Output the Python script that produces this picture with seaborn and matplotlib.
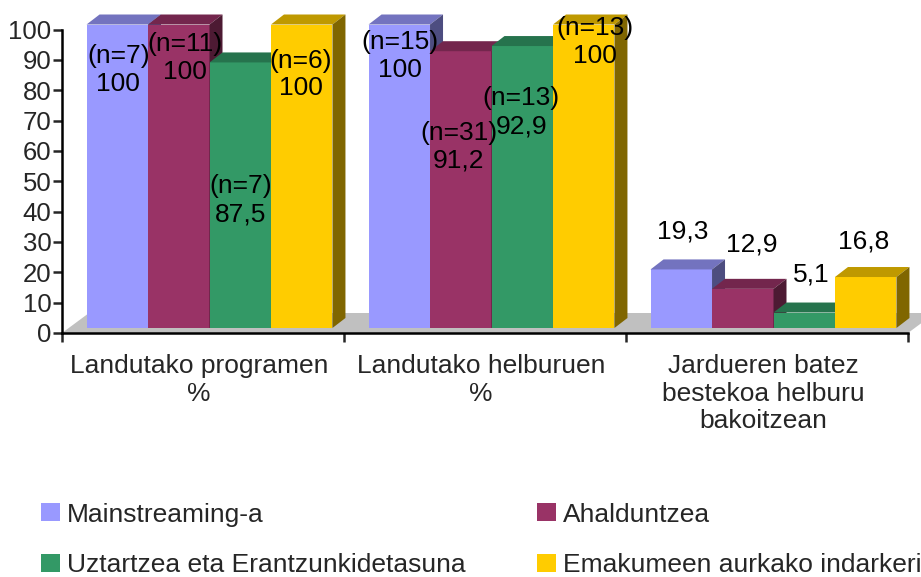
import numpy as np
import pandas as pd
import matplotlib
matplotlib.use("Agg")
import matplotlib.pyplot as plt
import matplotlib.colors as mcolors
from matplotlib.patches import Polygon, Patch
from matplotlib.transforms import ScaledTranslation
import seaborn as sns

# ---------------- data ----------------
categories = ["Landutako programen\n%", "Landutako helburuen\n%",
              "Jardueren batez\nbestekoa helburu\nbakoitzean"]
series = ["Mainstreaming-a", "Ahalduntzea",
          "Uztartzea eta Erantzunkidetasuna", "Emakumeen aurkako indarkeria"]
mainstreaming = [100, 100, 19.3]
ahalduntzea = [100, 91.2, 12.9]
uztartzea = [87.5, 92.9, 5.1]
emakumeen = [100, 100, 16.8]
n_mainstreaming = [7, 15, None]
n_ahalduntzea = [11, 31, None]
n_uztartzea = [7, 13, None]
n_emakumeen = [6, 13, None]
y_ticks = list(range(0, 101, 10))
colors = ["#9999FF", "#993366", "#339966", "#FFCC00"]

values = [mainstreaming, ahalduntzea, uztartzea, emakumeen]
counts = [n_mainstreaming, n_ahalduntzea, n_uztartzea, n_emakumeen]

# ---------------- layout (not data) ----------------
# label centre heights (axis units) and horizontal nudges (px), per category then series
label_y = [[86.7, 90.6, 43.7, 85.2],
           [91.4, 61.3, 72.7, 95.9],
           [33.3, 29.0, 19.4, 30.0]]
label_dx = [[1, 6, 0, -1],
            [1, -2, -1, 11],
            [1, 9, 7, -2]]
FRONT_PX = (6.5, 5.0)    # front plane offset from axis plane
DEPTH_PX = (13.0, 10.0)  # bar depth
FLOOR_PX = (27.0, 20.0)  # floor depth

sns.set_style("ticks")
plt.rcParams["font.family"] = ["Liberation Sans", "DejaVu Sans"]
FS = 19

fig = plt.figure(figsize=(9.21, 5.77), dpi=100)
ax = fig.add_axes([62 / 921, (577 - 333) / 577, 846 / 921, 303.5 / 577])

rows = []
for s, vals in zip(series, values):
    for c, v in zip(categories, vals):
        rows.append({"category": c, "series": s, "value": v})
df = pd.DataFrame(rows)

sns.barplot(data=df, x="category", y="value", hue="series", order=categories,
            hue_order=series, palette=colors, saturation=1, width=0.872,
            errorbar=None, legend=False, linewidth=0, ax=ax)

ax.set_xlim(-0.5, 2.5)
ax.set_ylim(0, 100)

inv = ax.transData.inverted()
def px2data(px, py):
    a = inv.transform((0, 0))
    b = inv.transform((px, py))
    return b[0] - a[0], b[1] - a[1]

fx, fy = px2data(*FRONT_PX)
dx, dy = px2data(*DEPTH_PX)
flx, fly = px2data(*FLOOR_PX)

# floor
floor = Polygon([(-0.5, 0), (2.5, 0), (2.5 + flx, fly), (-0.5 + flx, fly)],
                closed=True, facecolor="#C0C0C0", edgecolor="none",
                zorder=1, clip_on=False)
ax.add_patch(floor)

bars = sorted([p for p in ax.patches if p is not floor], key=lambda p: p.get_x())
for k, p in enumerate(bars):
    ci, si = k // 4, k % 4
    x0, w, h = p.get_x(), p.get_width(), p.get_height()
    base = mcolors.to_rgb(colors[si])
    top_c = tuple(c * 0.75 for c in base)
    side_c = tuple(c * 0.5 for c in base)
    z = 3 + k * 0.1
    X0 = x0 + fx
    X1 = x0 + w + fx
    Y0 = fy
    Y1 = h + fy
    p.set_x(X0)
    p.set_y(Y0)
    p.set_zorder(z)
    p.set_clip_on(False)
    p.set_linewidth(0)
    top = Polygon([(X0, Y1), (X1, Y1), (X1 + dx, Y1 + dy), (X0 + dx, Y1 + dy)],
                  closed=True, facecolor=top_c, edgecolor="none", zorder=z, clip_on=False)
    side = Polygon([(X1, Y0), (X1 + dx, Y0 + dy), (X1 + dx, Y1 + dy), (X1, Y1)],
                   closed=True, facecolor=side_c, edgecolor="none", zorder=z, clip_on=False)
    ax.add_patch(top)
    ax.add_patch(side)

    v = values[si][ci]
    n = counts[si][ci]
    txt = f"{v:g}".replace(".", ",")
    if n is not None:
        txt = f"(n={n})\n{txt}"
    ndx, _ = px2data(label_dx[ci][si], 0)
    ax.text((X0 + X1) / 2 + ndx, label_y[ci][si], txt, ha="center", va="center",
            fontsize=FS, linespacing=1.2, color="black", zorder=20, clip_on=False)

# axes styling
for sp in ["top", "right"]:
    ax.spines[sp].set_visible(False)
for sp in ["left", "bottom"]:
    ax.spines[sp].set_linewidth(1.8)
    ax.spines[sp].set_color("black")
    ax.spines[sp].set_zorder(2)

ax.set_yticks(y_ticks)
ax.set_yticklabels([str(t) for t in y_ticks])
ax.tick_params(axis="y", labelsize=18.5, length=6.5, width=1.8, pad=1, direction="out")

ax.set_xticks([0, 1, 2])
ax.set_xticklabels(categories, fontsize=FS, linespacing=1.2)
ax.tick_params(axis="x", which="major", length=0, pad=15)
shift = ScaledTranslation(-4 / 100, 0, fig.dpi_scale_trans)
for lbl in ax.get_xticklabels():
    lbl.set_transform(lbl.get_transform() + shift)
ax.set_xticks([-0.5, 0.5, 1.5, 2.5], minor=True)
ax.tick_params(axis="x", which="minor", length=6.5, width=1.8, direction="out")
ax.set_xlabel("")
ax.set_ylabel("")
ax.set_facecolor("white")

# legend filled row-wise: column 1 = series 0, 2 ; column 2 = series 1, 3
order = [0, 2, 1, 3]
handles = [Patch(facecolor=colors[i], edgecolor="none") for i in order]
labels = [series[i] for i in order]
fig.legend(handles, labels, loc="upper left", bbox_to_anchor=(41 / 921, 0.129),
           ncol=2, frameon=False, fontsize=FS, borderpad=0, borderaxespad=0,
           handlelength=0.72, handleheight=0.68, handletextpad=0.27,
           labelspacing=1.0, columnspacing=2.7)

fig.savefig("out.png", dpi=100)
